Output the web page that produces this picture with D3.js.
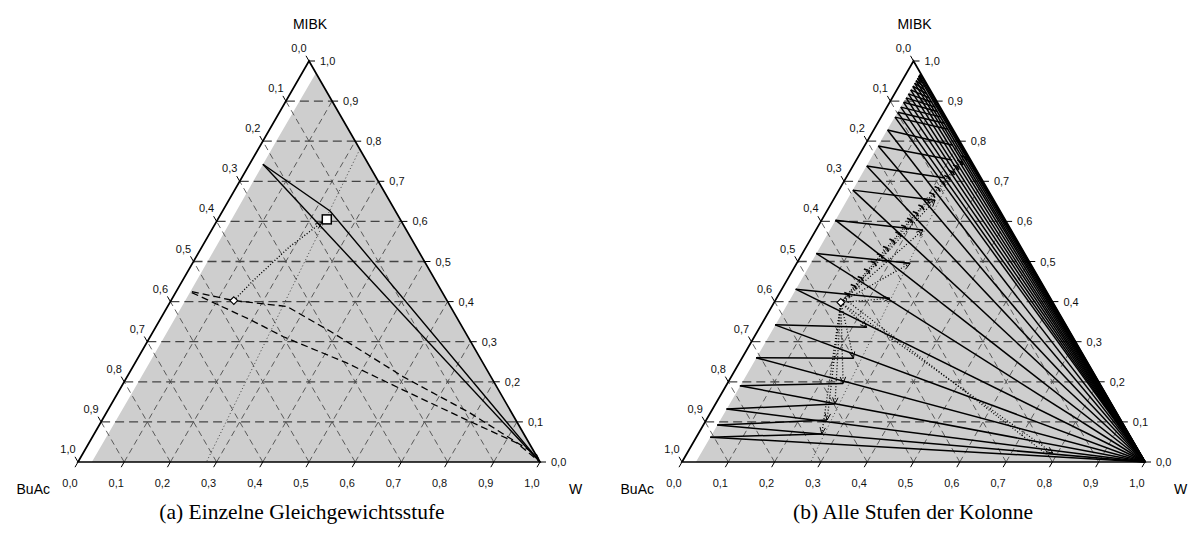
<!DOCTYPE html>
<html><head><meta charset="utf-8">
<script src="https://cdn.jsdelivr.net/npm/d3@7"></script>
<style>body{margin:0;background:#fff}svg{display:block}</style>
</head><body>
<svg id="chart" width="1192" height="534"></svg>
<script>
// ---------- data ----------
const tickValues = [0,0.1,0.2,0.3,0.4,0.5,0.6,0.7,0.8,0.9,1.0];
const tickLabels = ["0,0","0,1","0,2","0,3","0,4","0,5","0,6","0,7","0,8","0,9","1,0"];
const axisTitles = {top:"MIBK", left:"BuAc", right:"W"};
const captions = ["(a) Einzelne Gleichgewichtsstufe", "(b) Alle Stufen der Kolonne"];

// points are [w (water fraction), m (MIBK fraction)]
const binodal = [[0.03,0],[0.031,0.2],[0.031,0.4],[0.03,0.6],[0.029,0.8],[0.03,0.97]];

// panel (a)
const aTieUpper = [[0.029,0.7425],[0.2325,0.626],[1,0]];
const aTieLower = [[0.029,0.7425],[1,0]];
const aDashedUpper = [[0.034,0.425],[0.136,0.4025],[0.258,0.388],[0.383,0.326],[0.597,0.213],[0.787,0.1225],[0.984,0.0175],[1,0]];
const aDashedLower = [[0.035,0.4225],[0.195,0.355],[0.287,0.313],[0.458,0.247],[0.613,0.18],[0.798,0.101],[0.926,0.0475],[1,0]];
const aDottedArrow = [[0.136,0.4025],[0.153,0.4525],[0.19,0.5375],[0.229,0.5975]];
const aMixLine = [[0.22,0.78],[0.278,0]];
const aSquare = [0.236,0.605];
const aDiamond = [0.136,0.4025];

// panel (b)
const bStageM = [0.062,0.092,0.132,0.19,0.26,0.342,0.431,0.52,0.603,0.678,0.738,0.788,0.828,
  0.86,0.872,0.885,0.897,0.908,0.918,0.928,0.937,0.945,0.951,0.957,0.962,0.965,0.968];
const bStageW = 0.03;
const bShortEnds = [[0.267,0.07],[0.261,0.1047],[0.258,0.1446],[0.25,0.196],[0.241,0.2586],[0.231,0.336],
  [0.245,0.408],[0.245,0.4955],[0.231,0.5786],[0.22,0.653],[0.214,0.708],[0.207,0.753],[0.19,0.79],
  [0.16,0.83],[0.145,0.845],[0.13,0.86],[0.115,0.874],[0.105,0.885],[0.092,0.897],[0.08,0.908],
  [0.07,0.918],[0.06,0.928],[0.054,0.936],[0.047,0.945],[0.042,0.951],[0.038,0.957]];
const bArrowCount = 10;
const bDiamond = [0.144,0.398];
const bLadder = [[0.144,0.398],[0.149,0.419],[0.153,0.439],[0.158,0.459],[0.162,0.478],[0.167,0.497],
  [0.171,0.516],[0.175,0.534],[0.18,0.552],[0.184,0.57],[0.188,0.587],[0.192,0.604],[0.196,0.621],
  [0.2,0.637],[0.204,0.653],[0.208,0.668],[0.212,0.683],[0.216,0.697],[0.219,0.711],[0.222,0.724],
  [0.225,0.737],[0.228,0.749],[0.231,0.76]];
const bLongDotted = [[[0.144,0.398],[0.79,0.022]],[[0.152,0.404],[0.785,0.015]]];
const bMixLine = [[0.22,0.78],[0.278,0]];

// ---------- drawing ----------
const svg = d3.select("#chart");
const panels = [
  {x0:78, x1:540, yB:462, yT:61},
  {x0:682, x1:1145, yB:462, yT:61}
];
panels.forEach(p => {
  p.sx = d3.scaleLinear().domain([0,1]).range([p.x0, p.x1]);
  p.sy = d3.scaleLinear().domain([0,1]).range([p.yB, p.yT]);
  p.pt = (w,m) => [p.sx(w + m/2), p.sy(m)];
  p.line = d3.line().x(d => p.pt(d[0],d[1])[0]).y(d => p.pt(d[0],d[1])[1]);
});

const FONT = "'Liberation Sans', Arial, Helvetica, sans-serif";

function arrowHead(g, a, b, len, ang, sw) {
  const dx = a[0]-b[0], dy = a[1]-b[1];
  const L = Math.hypot(dx,dy);
  const ux = dx/L, uy = dy/L;
  [ang,-ang].forEach(t => {
    const c = Math.cos(t), s = Math.sin(t);
    const vx = ux*c - uy*s, vy = ux*s + uy*c;
    g.append("line").attr("x1",b[0]).attr("y1",b[1])
      .attr("x2",b[0]+vx*len).attr("y2",b[1]+vy*len)
      .attr("stroke","#000").attr("stroke-width",sw || 1);
  });
}

function drawBase(p, i) {
  const g = svg.append("g");
  const region = binodal.concat([[1,0]]);
  g.append("path").attr("d", p.line(region) + "Z").attr("fill","#cecece").attr("stroke","none");
  const grid = g.append("g").attr("fill","none");
  for (let k=1;k<=9;k++){
    const v = tickValues[k];
    const h1 = p.pt(0,v), h2 = p.pt(1-v,v);
    grid.append("line").attr("x1",h1[0]).attr("y1",h1[1]).attr("x2",h2[0]).attr("y2",h2[1])
      .attr("stroke","#444").attr("stroke-width",1.3).attr("stroke-dasharray","9,5");
    const w1 = p.pt(v,0), w2 = p.pt(v,1-v);
    grid.append("line").attr("x1",w1[0]).attr("y1",w1[1]).attr("x2",w2[0]).attr("y2",w2[1])
      .attr("stroke","#444").attr("stroke-width",0.85).attr("stroke-dasharray","6,4");
    const b1 = p.pt(1-v,0), b2 = p.pt(0,1-v);
    grid.append("line").attr("x1",b1[0]).attr("y1",b1[1]).attr("x2",b2[0]).attr("y2",b2[1])
      .attr("stroke","#444").attr("stroke-width",0.85).attr("stroke-dasharray","6,4");
  }
  return g;
}

function drawFrame(p, i) {
  const g = svg.append("g");
  const tri = [[0,0],[1,0],[0,1]];
  g.append("path").attr("d", p.line(tri)+"Z").attr("fill","none").attr("stroke","#000").attr("stroke-width",1.7);
  const lab = g.append("g").attr("font-family",FONT).attr("font-size",11).attr("fill","#111");
  tickValues.forEach((v,k) => {
    let q = p.pt(0,1-v);
    g.append("line").attr("x1",q[0]).attr("y1",q[1]).attr("x2",q[0]-3).attr("y2",q[1]-5.2).attr("stroke","#000").attr("stroke-width",1);
    lab.append("text").attr("x",q[0]-10).attr("y",q[1]-13).attr("text-anchor","middle").attr("dominant-baseline","central").text(tickLabels[k]);
    q = p.pt(1-v,v);
    g.append("line").attr("x1",q[0]).attr("y1",q[1]).attr("x2",q[0]+6).attr("y2",q[1]).attr("stroke","#000").attr("stroke-width",1);
    lab.append("text").attr("x",q[0]+11).attr("y",q[1]).attr("text-anchor","start").attr("dominant-baseline","central").text(tickLabels[k]);
    q = p.pt(v,0);
    g.append("line").attr("x1",q[0]).attr("y1",q[1]).attr("x2",q[0]-3).attr("y2",q[1]+5.2).attr("stroke","#000").attr("stroke-width",1);
    lab.append("text").attr("x",q[0]-8).attr("y",q[1]+21).attr("text-anchor","middle").attr("dominant-baseline","central").text(tickLabels[k]);
  });
  const t = g.append("g").attr("font-family",FONT).attr("font-size",14).attr("fill","#000");
  let q = p.pt(0,1);
  t.append("text").attr("x",q[0]+1).attr("y",29).attr("text-anchor","middle").text(axisTitles.top);
  q = p.pt(0,0);
  t.append("text").attr("x",q[0]-28).attr("y",494).attr("text-anchor","end").text(axisTitles.left);
  q = p.pt(1,0);
  t.append("text").attr("x",q[0]+29).attr("y",494).attr("text-anchor","start").text(axisTitles.right);
  g.append("text").attr("x", i===0 ? 302 : 913).attr("y",519).attr("text-anchor","middle")
    .attr("font-family","'Liberation Serif','Times New Roman',serif").attr("font-size",21.5).attr("fill","#000")
    .text(captions[i]);
}

function diamond(g, p, d) {
  const q = p.pt(d[0],d[1]);
  g.append("path").attr("d",`M${q[0]},${q[1]-3.8}L${q[0]+3.8},${q[1]}L${q[0]},${q[1]+3.8}L${q[0]-3.8},${q[1]}Z`)
    .attr("fill","#fff").attr("stroke","#000").attr("stroke-width",1.1);
}

// ----- panel (a) -----
{
  const p = panels[0];
  drawBase(p,0);
  const g = svg.append("g").attr("fill","none");
  g.append("path").attr("d",p.line(aMixLine)).attr("stroke","#333").attr("stroke-width",0.9).attr("stroke-dasharray","1,2.5");
  g.append("path").attr("d",p.line(aDashedUpper)).attr("stroke","#000").attr("stroke-width",1.3).attr("stroke-dasharray","7,4");
  g.append("path").attr("d",p.line(aDashedLower)).attr("stroke","#000").attr("stroke-width",1.3).attr("stroke-dasharray","7,4");
  g.append("path").attr("d",p.line(aTieUpper)).attr("stroke","#000").attr("stroke-width",1.4);
  g.append("path").attr("d",p.line(aTieLower)).attr("stroke","#000").attr("stroke-width",1.4);
  g.append("path").attr("d",p.line(aDottedArrow)).attr("stroke","#000").attr("stroke-width",1.4).attr("stroke-dasharray","1,2");
  const n = aDottedArrow.length;
  arrowHead(g, p.pt(...aDottedArrow[n-2]), p.pt(...aDottedArrow[n-1]), 7, 0.4);
  const s = p.pt(...aSquare);
  g.append("rect").attr("x",s[0]-4.5).attr("y",s[1]-4.5).attr("width",9).attr("height",9)
    .attr("fill","#fff").attr("stroke","#000").attr("stroke-width",1.5);
  diamond(g,p,aDiamond);
  drawFrame(p,0);
}

// ----- panel (b) -----
{
  const p = panels[1];
  drawBase(p,1);
  const g = svg.append("g").attr("fill","none");
  g.append("path").attr("d",p.line(bMixLine)).attr("stroke","#333").attr("stroke-width",0.9).attr("stroke-dasharray","1,2.5");
  bLongDotted.forEach(l => {
    g.append("path").attr("d",p.line(l)).attr("stroke","#000").attr("stroke-width",1.2).attr("stroke-dasharray","1,2");
  });
  arrowHead(g, p.pt(...bLongDotted[0][0]), p.pt(...bLongDotted[0][1]), 7, 0.4);
  bStageM.forEach(m => {
    g.append("path").attr("d",p.line([[bStageW,m],[1,0]])).attr("stroke","#000").attr("stroke-width",1.5);
  });
  bShortEnds.forEach((e,i) => {
    g.append("path").attr("d",p.line([[bStageW,bStageM[i]],e])).attr("stroke","#000").attr("stroke-width",1.5);
  });
  bShortEnds.slice(0,bArrowCount).forEach(e => {
    g.append("path").attr("d",p.line([bDiamond,e])).attr("stroke","#000").attr("stroke-width",1.3).attr("stroke-dasharray","1,2");
    arrowHead(g, p.pt(...bDiamond), p.pt(...e), 7, 0.4);
  });
  // chain of dotted arrows between successive mixing points (ladder)
  for (let i=1;i<bLadder.length;i++){
    const a = bLadder[i-1], b = bLadder[i];
    const off = [0.004,-0.002];
    g.append("path").attr("d",p.line([a,b])).attr("stroke","#000").attr("stroke-width",1.3).attr("stroke-dasharray","1,1.5");
    g.append("path").attr("d",p.line([[a[0]+off[0],a[1]+off[1]],[b[0]+off[0],b[1]+off[1]]])).attr("stroke","#000").attr("stroke-width",1).attr("stroke-dasharray","1,2");
    arrowHead(g, p.pt(...a), p.pt(...b), 4, 1.25, 1.6);
  }
  diamond(g,p,bDiamond);
  drawFrame(p,1);
}
</script>
</body></html>
